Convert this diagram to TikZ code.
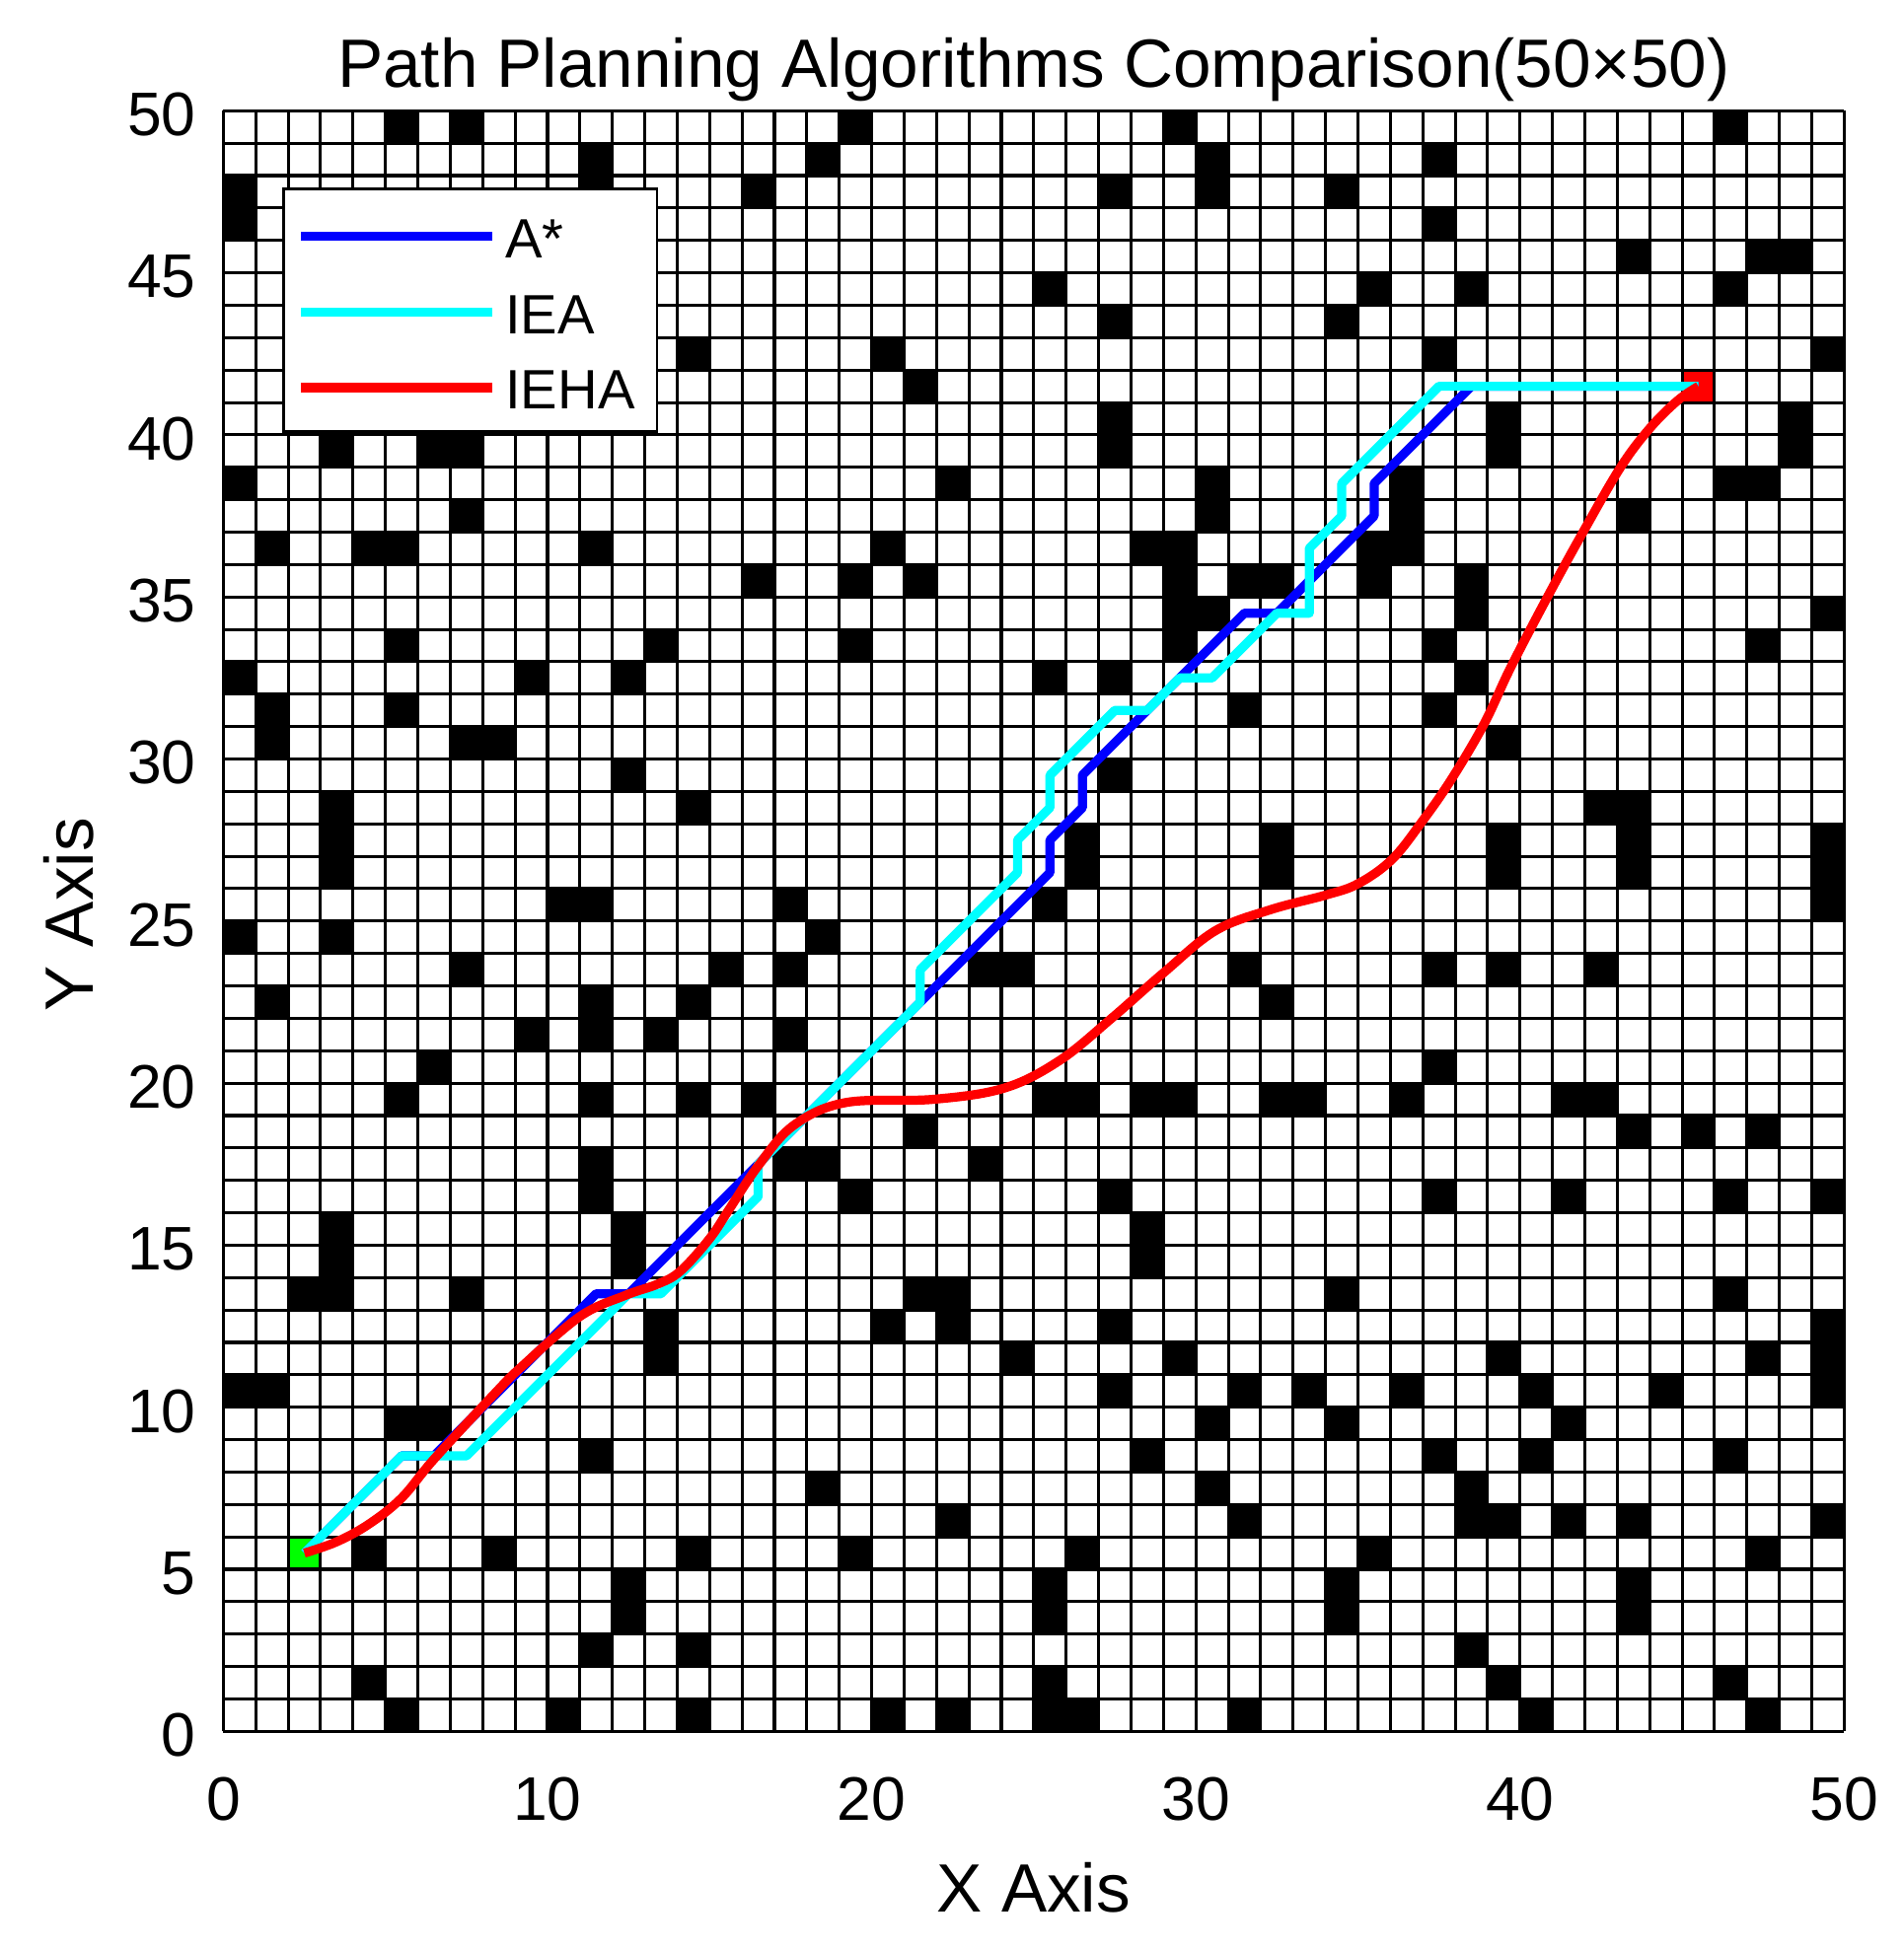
\documentclass[tikz,border=0pt]{standalone}
\usepackage{fontspec}
\setmainfont{Liberation Sans}
\usetikzlibrary{positioning}

\definecolor{aqua}{RGB}{0,255,255}
\definecolor{pureblue}{RGB}{0,0,255}
\definecolor{purered}{RGB}{255,0,0}
\definecolor{puregreen}{RGB}{0,255,0}

\tikzset{
  gridline/.style={line width=0.8pt, draw=black},
  obst/.style={fill=black},
  ticklab/.style={font=\fontsize{16.2}{19}\selectfont, inner sep=0pt},
  axlab/.style={font=\fontsize{18}{21}\selectfont, inner sep=0pt},
  legtext/.style={font=\fontsize{14.6}{17}\selectfont, inner sep=0pt, anchor=west},
  route/.style={line width=2.4pt, line join=round},
}

\begin{document}
\begin{tikzpicture}[x=0.3cm, y=0.3cm]
  \useasboundingbox (-6.889,-6.746) rectangle (51.826,53.419);

  % obstacles
  \foreach \ox/\oy in {
      5/49, 7/49, 19/49, 29/49, 46/49,
      11/48, 18/48, 30/48, 37/48,
      0/47, 11/47, 16/47, 27/47, 30/47, 34/47,
      0/46, 37/46,
      43/45, 47/45, 48/45,
      25/44, 35/44, 38/44, 46/44,
      27/43, 34/43,
      14/42, 20/42, 37/42, 49/42,
      21/41,
      27/40, 39/40, 48/40,
      3/39, 6/39, 7/39, 27/39, 39/39, 48/39,
      0/38, 22/38, 30/38, 36/38, 46/38, 47/38,
      7/37, 30/37, 36/37, 43/37,
      1/36, 4/36, 5/36, 11/36, 20/36, 28/36, 29/36, 35/36, 36/36,
      16/35, 19/35, 21/35, 29/35, 31/35, 32/35, 35/35, 38/35,
      29/34, 30/34, 38/34, 49/34,
      5/33, 13/33, 19/33, 29/33, 37/33, 47/33,
      0/32, 9/32, 12/32, 25/32, 27/32, 38/32,
      1/31, 5/31, 31/31, 37/31,
      1/30, 7/30, 8/30, 39/30,
      12/29, 27/29,
      3/28, 14/28, 42/28, 43/28,
      3/27, 26/27, 32/27, 39/27, 43/27, 49/27,
      3/26, 26/26, 32/26, 39/26, 43/26, 49/26,
      10/25, 11/25, 17/25, 25/25, 49/25,
      0/24, 3/24, 18/24,
      7/23, 15/23, 17/23, 23/23, 24/23, 31/23, 37/23, 39/23, 42/23,
      1/22, 11/22, 14/22, 32/22,
      9/21, 11/21, 13/21, 17/21,
      6/20, 37/20,
      5/19, 11/19, 14/19, 16/19, 25/19, 26/19, 28/19, 29/19, 32/19, 33/19, 36/19, 41/19, 42/19,
      21/18, 43/18, 45/18, 47/18,
      11/17, 17/17, 18/17, 23/17,
      11/16, 19/16, 27/16, 37/16, 41/16, 46/16, 49/16,
      3/15, 12/15, 28/15,
      3/14, 12/14, 28/14,
      2/13, 3/13, 7/13, 21/13, 22/13, 34/13, 46/13,
      13/12, 20/12, 22/12, 27/12, 49/12,
      13/11, 24/11, 29/11, 39/11, 47/11, 49/11,
      0/10, 1/10, 27/10, 31/10, 33/10, 36/10, 40/10, 44/10, 49/10,
      5/9, 6/9, 30/9, 34/9, 41/9,
      11/8, 28/8, 37/8, 40/8, 46/8,
      18/7, 30/7, 38/7,
      22/6, 31/6, 38/6, 39/6, 41/6, 43/6, 49/6,
      4/5, 8/5, 14/5, 19/5, 26/5, 35/5, 47/5,
      12/4, 25/4, 34/4, 43/4,
      12/3, 25/3, 34/3, 43/3,
      11/2, 14/2, 38/2,
      4/1, 25/1, 39/1, 46/1,
      5/0, 10/0, 14/0, 20/0, 22/0, 25/0, 26/0, 31/0, 40/0, 47/0}
    \fill[obst] (\ox,\oy) rectangle ++(1,1);

  % start and goal cells
  \fill[puregreen] (2,5) rectangle ++(1,1);
  \fill[purered] (45,41) rectangle ++(1,1);

  % grid
  \draw[gridline, step=0.3cm] (0,0) grid (50,50);

  % paths
  \draw[route, pureblue] (2.5,5.5) -- (5.5,8.5) -- (6.5,8.5) -- (11.5,13.5) -- (12.5,13.5)
    -- (21.5,22.5) -- (25.5,26.5) -- (25.5,27.5) -- (26.5,28.5) -- (26.5,29.5)
    -- (31.5,34.5) -- (32.5,34.5) -- (35.5,37.5) -- (35.5,38.5) -- (38.5,41.5) -- (45.5,41.5);
  \draw[route, aqua] (2.5,5.5) -- (5.5,8.5) -- (7.5,8.5) -- (12.5,13.5) -- (13.5,13.5)
    -- (16.5,16.5) -- (16.5,17.5) -- (21.5,22.5) -- (21.5,23.5) -- (24.5,26.5) -- (24.5,27.5)
    -- (25.5,28.5) -- (25.5,29.5) -- (27.5,31.5) -- (28.5,31.5) -- (29.5,32.5) -- (30.5,32.5)
    -- (32.5,34.5) -- (33.5,34.5) -- (33.5,36.5) -- (34.5,37.5) -- (34.5,38.5) -- (37.5,41.5)
    -- (45.5,41.5);
  \draw[route, purered] plot[smooth, tension=0.6] coordinates {
    (2.5,5.5) (3.5,5.85) (4.5,6.4) (5.5,7.2) (6.5,8.4) (8.35,10.4) (9.2,11.25) (11.0,12.8)
    (12.4,13.45) (13.4,13.8) (14.1,14.2) (15.0,15.2) (15.6,16.1) (16.5,17.45)
    (17.6,18.7) (19.2,19.4) (21.9,19.5) (24.1,19.85) (25.8,20.7) (27.4,22.0)
    (29.0,23.4) (30.6,24.7) (32.3,25.35) (34.0,25.8) (35.0,26.15) (36.05,26.9)
    (37.0,28.1) (37.9,29.4) (38.9,31.1) (39.7,32.8) (40.9,35.1) (42.0,37.1)
    (43.1,39.0) (44.0,40.2) (44.85,41.05) (45.5,41.5)};

  % legend
  \filldraw[fill=white, draw=black, line width=0.7pt] (1.86,40.11) rectangle (13.38,47.58);
  \draw[route, pureblue] (2.4,46.13) -- (8.3,46.13);
  \draw[route, aqua] (2.4,43.79) -- (8.3,43.79);
  \draw[route, purered] (2.4,41.46) -- (8.3,41.46);
  \node[legtext] (lgastar) at (8.68,46.05) {A*};
  \node[legtext] (lgiea) at (8.68,43.71) {IEA};
  \node[legtext] (lgieha) at (8.68,41.38) {IEHA};

  % tick labels
  \foreach \v in {0,5,...,50}
    \node[ticklab, anchor=east] (yt\v) at (-0.82,\v-0.12) {\v};
  \foreach \v in {0,10,...,50}
    \node[ticklab, anchor=north] (xt\v) at (\v,-1.41) {\v};

  % title and axis labels
  \node[axlab, anchor=base] (title) at (25,50.73) {Path Planning Algorithms Comparison(50×50)};
  \node[axlab, anchor=base] (xlab) at (25,-5.56) {X Axis};
  \node[axlab, anchor=base, rotate=90] (ylab) at (-4.0,25.2) {Y Axis};
\end{tikzpicture}
\end{document}
